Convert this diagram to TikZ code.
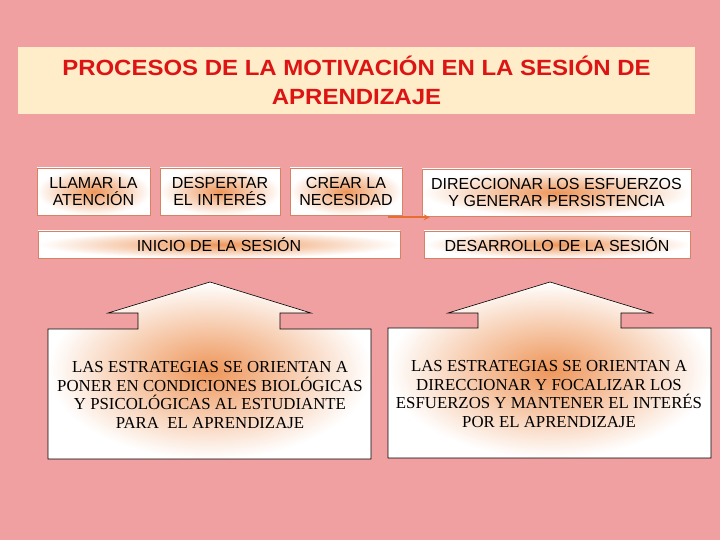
\documentclass[tikz,border=0pt]{standalone}
\usepackage{fontspec}
\setmainfont{Liberation Serif}
\setsansfont{Liberation Sans}
\newfontfamily\fuentetitulo{Liberation Sans}[FakeStretch=1.09]
\usetikzlibrary{arrows.meta}

\definecolor{fondo}{RGB}{240,160,160}
\definecolor{crema}{RGB}{255,236,200}
\definecolor{rojotit}{RGB}{220,20,20}
\definecolor{naranja}{RGB}{238,150,90}
\definecolor{flecha}{RGB}{230,110,50}
\definecolor{borde}{RGB}{215,130,100}

\begin{document}
\begin{tikzpicture}


\tikzset{Paso/.style = {draw=borde, line width=.6pt, inner color=naranja, outer color=white,
                        align=center, inner sep=0pt, font=\sffamily\fontsize{16}{17}\selectfont}}
\tikzset{Etapa/.style = {Paso, minimum height=27pt}}
\tikzset{Flecha/.style = {draw=black, line width=.6pt, inner color=naranja, outer color=white}}
\tikzset{Texto/.style = {align=center, font=\rmfamily\fontsize{16.8}{18.8}\selectfont}}


\fill[fondo] (0pt,0pt) rectangle (720pt,540pt);
\useasboundingbox (0pt,0pt) rectangle (720pt,540pt);

\node[fill=crema,minimum width=677pt,minimum height=67pt,align=center,inner sep=0pt,
      text=rojotit,font=\fuentetitulo\bfseries\fontsize{22}{29}\selectfont]
      (titulo) at (356.5pt,459.5pt) {PROCESOS DE LA MOTIVACIÓN EN LA SESIÓN DE\\APRENDIZAJE};

\node[Paso,minimum width=113pt,minimum height=47pt] (llamar) at (93.5pt,348.5pt) {LLAMAR LA\\ATENCIÓN};
\node[Paso,minimum width=120pt,minimum height=47pt] (despertar) at (220pt,348.5pt) {DESPERTAR\\EL INTERÉS};
\node[Paso,minimum width=112pt,minimum height=47pt] (crear) at (346pt,348.5pt) {CREAR LA\\NECESIDAD};
\node[Paso,minimum width=269pt,minimum height=47pt] (direccionar) at (556.5pt,347.5pt) {DIRECCIONAR LOS ESFUERZOS\\Y GENERAR PERSISTENCIA};

\node[Etapa,minimum width=362pt] (inicio) at (219pt,295.5pt) {INICIO DE LA SESIÓN};
\node[Etapa,minimum width=266pt] (desarrollo) at (557pt,295.5pt) {DESARROLLO DE LA SESIÓN};

\coordinate (salida) at ([xshift=-14pt,yshift=-2pt]crear.south east);
\coordinate (llegada) at ([xshift=8pt,yshift=-1pt]direccionar.south west);
\draw[draw=flecha,line width=2pt,-{Stealth[length=6pt,width=6pt]}] (salida) -- (llegada);

\path[Flecha] (48pt,211pt) -- (138pt,211pt) -- (138pt,227pt) -- (108pt,227pt) -- (210pt,258pt)
      -- (311pt,227pt) -- (280pt,227pt) -- (280pt,211pt) -- (371pt,211pt) -- (371pt,81pt)
      -- (48pt,81pt) -- cycle;
\node[Texto] (inicioest) at (210pt,145pt) {LAS ESTRATEGIAS SE ORIENTAN A\\PONER EN CONDICIONES BIOLÓGICAS\\Y PSICOLÓGICAS AL ESTUDIANTE\\PARA \ EL APRENDIZAJE};

\path[Flecha] (388pt,212pt) -- (478pt,212pt) -- (478pt,227pt) -- (448pt,227pt) -- (550pt,258pt)
      -- (652pt,227pt) -- (621pt,227pt) -- (621pt,212pt) -- (711pt,212pt) -- (711pt,82pt)
      -- (388pt,82pt) -- cycle;
\node[Texto] (desarrolloest) at (549pt,146pt) {LAS ESTRATEGIAS SE ORIENTAN A\\DIRECCIONAR Y FOCALIZAR LOS\\ESFUERZOS Y MANTENER EL INTERÉS\\POR EL APRENDIZAJE};

\end{tikzpicture}
\end{document}
